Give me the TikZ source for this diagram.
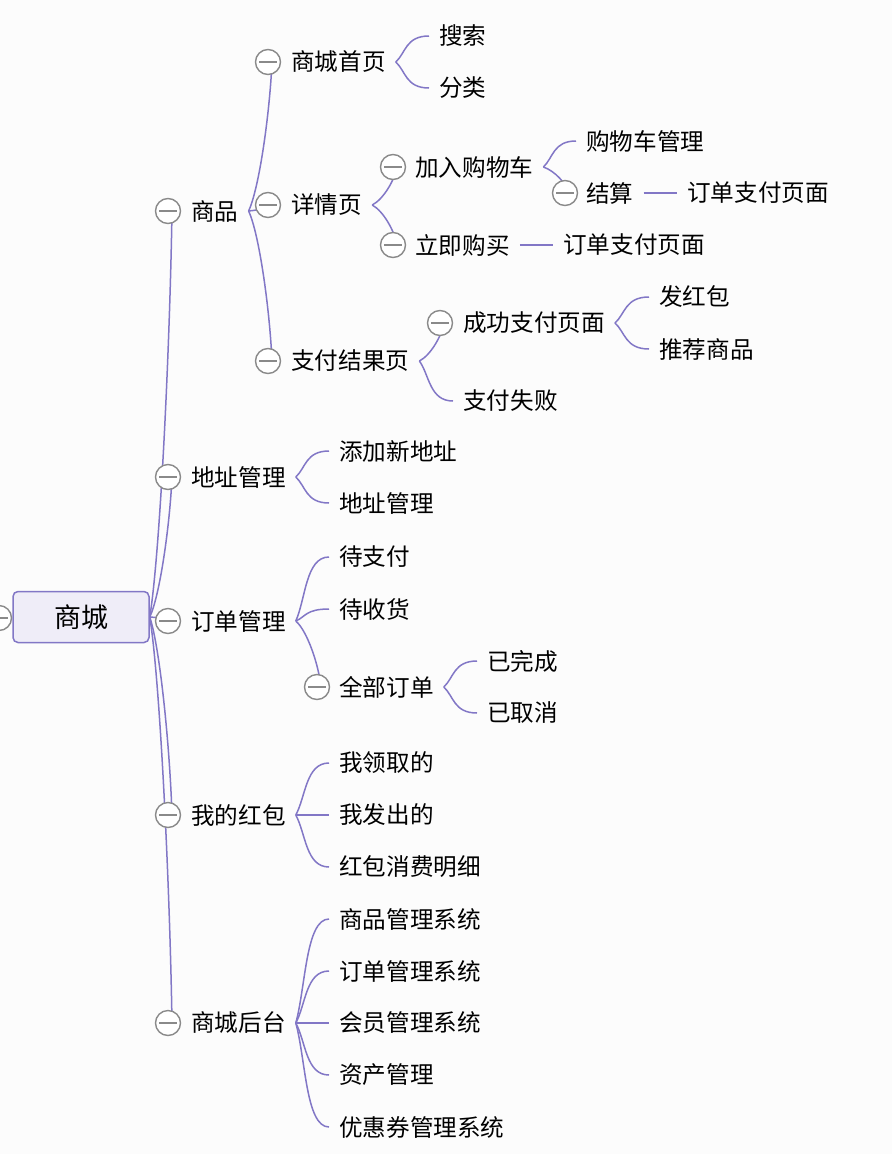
\documentclass[tikz,border=0pt]{standalone}
\usepackage{fontspec}
\setmainfont{Noto Sans CJK SC}
\usetikzlibrary{calc,backgrounds}
\definecolor{lc}{HTML}{8277C6}
\definecolor{cg}{HTML}{8A8A8A}
\definecolor{rootfill}{HTML}{EFEDF8}
\definecolor{bgc}{HTML}{FCFCFC}
\begin{document}
\begin{tikzpicture}[x=1pt,y=-1pt,
  lcline/.style={draw=lc, line width=1.5pt},
  leafconn/.style={to path={let \p1=(\tikztostart), \p2=(\tikztotarget) in
     .. controls ({\x1+0.3*(\x2-\x1)},{\y1+0.35*(\y2-\y1)}) and ({\x1+0.3*(\x2-\x1)},{\y2}) .. (\p2)}},
  circconn/.style={to path={let \p1=(\tikztostart), \p2=($(\tikztotarget)+(4pt,0)$) in
     .. controls ({\x1+0.45*(\x2-\x1)},{\y1+0.15*(\y2-\y1)}) and ({\x2-0.1*(\x2-\x1)},{\y2-0.35*(\y2-\y1)}) .. (\p2)}},
  circ/.style={circle, draw=cg, fill=white, line width=1.4pt, minimum size=25pt, inner sep=0pt,
     path picture={\draw[cg, line width=1.4pt] ($(path picture bounding box.center)+(-9pt,0)$) -- ($(path picture bounding box.center)+(9pt,0)$);}},
  txt/.style={anchor=west, inner xsep=10pt, inner ysep=3pt, font=\fontsize{23.6}{27}\selectfont},
  rootbox/.style={draw=lc, fill=rootfill, line width=1.5pt, rounded corners=5pt,
     minimum width=136pt, minimum height=51pt, inner sep=0pt, font=\fontsize{27}{31}\selectfont}
]
\useasboundingbox (0,0) rectangle (892,1154);
\begin{scope}[on background layer]
  \fill[bgc] (0,0) rectangle (892,1154);
\end{scope}

% root
\node[rootbox] (root) at (81,617) {商城};
\node[circ] (c0) at (-1,618) {};

% level 1
\node[circ] (cP) at (168,211) {};   \node[txt] (tP) at (181,211) {商品};
\node[circ] (cAd) at (168,477) {};  \node[txt] (tAd) at (181,477) {地址管理};
\node[circ] (cOr) at (168,621) {};  \node[txt] (tOr) at (181,621) {订单管理};
\node[circ] (cRe) at (168,815) {};  \node[txt] (tRe) at (181,815) {我的红包};
\node[circ] (cBk) at (168,1023) {}; \node[txt] (tBk) at (181,1023) {商城后台};

% 商品
\node[circ] (cHome) at (268,62) {};  \node[txt] (tHome) at (281,62) {商城首页};
\node[circ] (cDet) at (268,205) {};  \node[txt] (tDet) at (281,205) {详情页};
\node[circ] (cPay) at (268,361) {};  \node[txt] (tPay) at (281,361) {支付结果页};
\node[txt] (lSearch) at (429,36) {搜索};
\node[txt] (lCat) at (429,88) {分类};
\node[circ] (cCart) at (393,167) {}; \node[txt] (tCart) at (405,167) {加入购物车};
\node[circ] (cBuy) at (393,245) {};  \node[txt] (tBuy) at (405,245) {立即购买};
\node[txt] (lCartM) at (576,141) {购物车管理};
\node[circ] (cSettle) at (565,193) {}; \node[txt] (tSettle) at (576,193) {结算};
\node[txt] (lOrd1) at (677,193) {订单支付页面};
\node[txt] (lOrd2) at (553,245) {订单支付页面};
\node[circ] (cSucc) at (440,323) {}; \node[txt] (tSucc) at (453,323) {成功支付页面};
\node[txt] (lFail) at (453,401) {支付失败};
\node[txt] (lHb) at (649,297) {发红包};
\node[txt] (lRec) at (649,349) {推荐商品};

% 地址管理
\node[txt] (lAdd) at (329,451) {添加新地址};
\node[txt] (lAddM) at (329,503) {地址管理};

% 订单管理
\node[txt] (lWP) at (329,557) {待支付};
\node[txt] (lWR) at (329,609) {待收货};
\node[circ] (cAll) at (317,687) {}; \node[txt] (tAll) at (329,687) {全部订单};
\node[txt] (lDone) at (477,661) {已完成};
\node[txt] (lCanc) at (477,713) {已取消};

% 我的红包
\node[txt] (lR1) at (329,763) {我领取的};
\node[txt] (lR2) at (329,815) {我发出的};
\node[txt] (lR3) at (329,867) {红包消费明细};

% 商城后台
\node[txt] (lB1) at (329,919) {商品管理系统};
\node[txt] (lB2) at (329,971) {订单管理系统};
\node[txt] (lB3) at (329,1023) {会员管理系统};
\node[txt] (lB4) at (329,1075) {资产管理};
\node[txt] (lB5) at (329,1127) {优惠券管理系统};

\begin{scope}[on background layer, lcline]
  \foreach \c in {cP,cAd,cOr,cRe,cBk} \draw[lcline] (root.east) to[circconn] (\c);
  \foreach \c in {cHome,cDet,cPay} \draw[lcline] (tP.east) to[circconn] (\c);
  \draw[lcline] (tHome.east) to[leafconn] (lSearch.west);
  \draw[lcline] (tHome.east) to[leafconn] (lCat.west);
  \draw[lcline] (tDet.east) to[circconn] (cCart);
  \draw[lcline] (tDet.east) to[circconn] (cBuy);
  \draw[lcline] (tCart.east) to[leafconn] (lCartM.west);
  \draw[lcline] (tCart.east) to[circconn] (cSettle);
  \draw[lcline] (tSettle.east) -- (lOrd1.west);
  \draw[lcline] (tBuy.east) -- (lOrd2.west);
  \draw[lcline] (tPay.east) to[circconn] (cSucc);
  \draw[lcline] (tPay.east) to[leafconn] (lFail.west);
  \draw[lcline] (tSucc.east) to[leafconn] (lHb.west);
  \draw[lcline] (tSucc.east) to[leafconn] (lRec.west);
  \draw[lcline] (tAd.east) to[leafconn] (lAdd.west);
  \draw[lcline] (tAd.east) to[leafconn] (lAddM.west);
  \draw[lcline] (tOr.east) to[leafconn] (lWP.west);
  \draw[lcline] (tOr.east) to[leafconn] (lWR.west);
  \draw[lcline] (tOr.east) to[circconn] (cAll);
  \draw[lcline] (tAll.east) to[leafconn] (lDone.west);
  \draw[lcline] (tAll.east) to[leafconn] (lCanc.west);
  \foreach \l in {lR1,lR2,lR3} \draw[lcline] (tRe.east) to[leafconn] (\l.west);
  \foreach \l in {lB1,lB2,lB3,lB4,lB5} \draw[lcline] (tBk.east) to[leafconn] (\l.west);
\end{scope}
\end{tikzpicture}
\end{document}
